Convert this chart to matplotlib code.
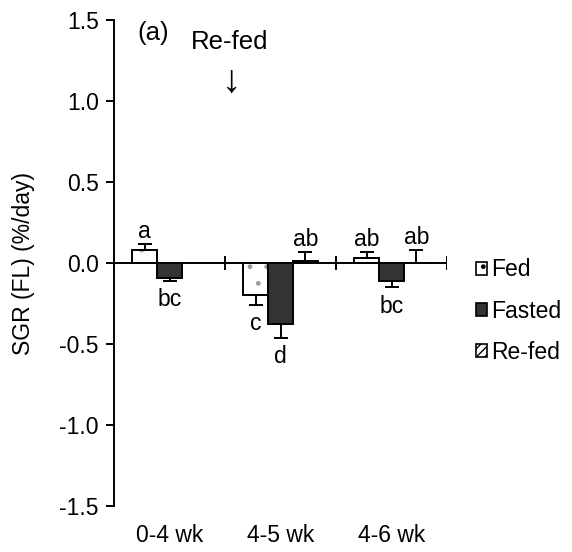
import numpy as np
import matplotlib.pyplot as plt
from matplotlib.patches import Patch

groups = ["0-4 wk", "4-5 wk", "4-6 wk"]
fed = [0.08, -0.20, 0.03]
fed_err = [0.037, 0.06, 0.038]
fasted = [-0.093, -0.376, -0.11]
fasted_err = [0.017, 0.085, 0.04]
refed = [np.nan, 0.01, 0.0]
refed_err = [np.nan, 0.058, 0.08]
fed_letters = ["a", "c", "ab"]
fasted_letters = ["bc", "d", "bc"]
refed_letters = ["", "ab", "ab"]

plt.rcParams['font.family'] = ['Liberation Sans', 'DejaVu Sans']
fs = 16.5
plt.rcParams['font.size'] = fs

fig = plt.figure(figsize=(5.72, 5.52), dpi=100)
ax = fig.add_axes([0.1993, 0.0833, 0.5822, 0.8805])

x = np.arange(len(groups))
w = 0.225
lw = 1.4

def draw(vals, errs, letters, off, face, hatch, hcol):
    for i in range(len(vals)):
        v = vals[i]
        if np.isnan(v):
            continue
        xi = x[i] + off
        if hatch:
            ax.bar(xi, v, w, color=face, edgecolor=hcol, hatch=hatch, linewidth=0, zorder=2)
            ax.bar(xi, v, w, fill=False, edgecolor='black', linewidth=lw, zorder=3)
        else:
            ax.bar(xi, v, w, color=face, edgecolor='black', linewidth=lw, zorder=3)
        e = errs[i]
        if v >= 0:
            ax.errorbar(xi, v, yerr=[[0], [e]], fmt='none', ecolor='black',
                        elinewidth=lw, capsize=5, capthick=lw, zorder=4)
            ax.text(xi, v + e + 0.005, letters[i], ha='center', va='bottom', fontsize=fs)
        else:
            ax.errorbar(xi, v, yerr=[[e], [0]], fmt='none', ecolor='black',
                        elinewidth=lw, capsize=5, capthick=lw, zorder=4)
            ax.text(xi, v - e - 0.045, letters[i], ha='center', va='top', fontsize=fs)

draw(fed, fed_err, fed_letters, -w, 'white', '.', '#999999')
draw(fasted, fasted_err, fasted_letters, 0, '#333333', None, None)
draw(refed, refed_err, refed_letters, w, 'white', '////', '#999999')

ax.set_xlim(-0.5, 2.5)
ax.set_ylim(-1.5, 1.5)
ax.set_yticks([-1.5, -1.0, -0.5, 0.0, 0.5, 1.0, 1.5])
ax.set_yticklabels(["-1.5", "-1.0", "-0.5", "0.0", "0.5", "1.0", "1.5"])
ax.set_xticks(x)
ax.set_xticklabels(groups)
ax.tick_params(axis='x', length=0, pad=13)
ax.tick_params(axis='y', direction='out', length=6, width=lw, pad=5)
for s in ['top', 'right', 'bottom']:
    ax.spines[s].set_visible(False)
ax.spines['left'].set_linewidth(lw)
ax.axhline(0, color='black', linewidth=lw, zorder=5)
ax.vlines([-0.5, 0.5, 1.5, 2.5], -0.045, 0.045, color='black', linewidth=lw, zorder=5)
ax.set_ylabel("SGR (FL) (%/day)", fontsize=fs)
ax.yaxis.set_label_coords(-0.237, 0.5)

ax.text(0.069, 0.973, "(a)", transform=ax.transAxes, fontsize=18.5, va='center')
ax.text(0.348, 0.955, "Re-fed", transform=ax.transAxes, fontsize=18.5, ha='center', va='center')
ax.text(0.354, 0.872, "\u2193", transform=ax.transAxes, fontsize=28, ha='center', va='center')

handles = [Patch(facecolor='white', edgecolor='black', hatch='.', linewidth=1.2),
           Patch(facecolor='#333333', edgecolor='black', linewidth=1.2),
           Patch(facecolor='white', edgecolor='black', hatch='////', linewidth=1.2)]
ax.legend(handles, ["Fed", "Fasted", "Re-fed"], loc='center left',
          bbox_to_anchor=(1.087, 0.401), frameon=False, handlelength=0.5,
          handleheight=0.5, handletextpad=0.15, labelspacing=0.8, fontsize=fs,
          borderpad=0, borderaxespad=0)

fig.savefig("out.png", dpi=100)
